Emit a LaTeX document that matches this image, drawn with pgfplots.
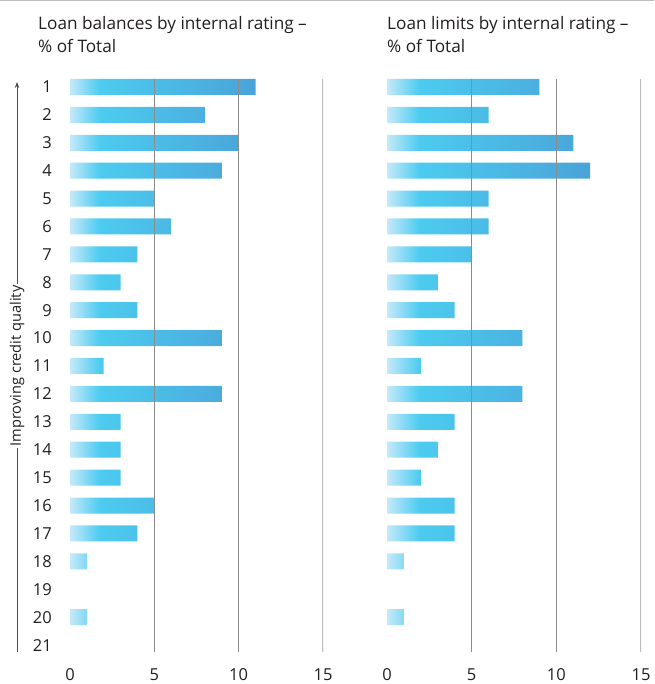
\documentclass[border=0pt]{standalone}
\usepackage{pgfplots}
\pgfplotsset{compat=1.18}
\usepackage{fontspec}
\setmainfont{Open Sans}
\usetikzlibrary{arrows.meta}
\definecolor{c1}{HTML}{C4E9FA}
\definecolor{c2}{HTML}{4CCBEF}
\definecolor{c3}{HTML}{4AA3D8}
\definecolor{gridc}{HTML}{8C8C8C}
\definecolor{gridl}{HTML}{BDBDBD}
\definecolor{txt}{HTML}{231F20}
\pgfdeclarehorizontalshading{barshade}{100bp}{color(0bp)=(c1); color(25bp)=(c1); color(33bp)=(c2); color(75bp)=(c3); color(100bp)=(c3)}
\pgfplotsset{
  panel/.style={
    scale only axis, width=253pt, height=573.4pt, anchor=south west,
    xmin=0, xmax=15, ymin=0.7, ymax=21.25, y dir=reverse,
    xtick={0,5,10,15}, ytick={1,...,21},
    axis line style={draw=none}, major tick length=0pt,
    /pgf/number format/assume math mode=true,
    ticklabel style={font=\fontsize{16.5}{16.5}\selectfont, text=txt},
    xticklabel style={anchor=base, yshift=-28pt},
    yticklabel style={anchor=east, inner sep=0pt, xshift=-18pt},
  },
  barstyle/.style={xbar, bar width=16pt, bar shift=0pt, draw=none, shade, shading=barshade},
}
\begin{document}
\begin{tikzpicture}
\path[use as bounding box] (0,0) rectangle (654pt,684pt);
\draw[gridl, line width=1pt] (0,683.5pt) -- (654pt,683.5pt);
% left panel
\begin{axis}[panel, at={(70pt,32pt)}]
\addplot[barstyle] coordinates {
(11,1) (8,2) (10,3) (9,4) (5,5) (6,6) (4,7) (3,8) (4,9) (9,10)
(2,11) (9,12) (3,13) (3,14) (3,15) (5,16) (4,17) (1,18) (1,20)};
\draw[gridc, line width=1.1pt] (axis cs:5,0.7) -- (axis cs:5,21.25);
\draw[gridc, line width=1.1pt] (axis cs:10,0.7) -- (axis cs:10,21.25);
\draw[gridl, line width=1.3pt] (axis cs:15,0.7) -- (axis cs:15,21.25);
\end{axis}
% right panel
\begin{axis}[panel, at={(387pt,32pt)}, width=254pt, yticklabels={}]
\addplot[barstyle] coordinates {
(9,1) (6,2) (11,3) (12,4) (6,5) (6,6) (5,7) (3,8) (4,9) (8,10)
(2,11) (8,12) (4,13) (3,14) (2,15) (4,16) (4,17) (1,18) (1,20)};
\draw[gridc, line width=1.1pt] (axis cs:5,0.7) -- (axis cs:5,21.25);
\draw[gridc, line width=1.1pt] (axis cs:10,0.7) -- (axis cs:10,21.25);
\draw[gridl, line width=1.3pt] (axis cs:15,0.7) -- (axis cs:15,21.25);
\end{axis}
% titles
\node[anchor=base west, inner sep=0pt, text=txt, font=\fontsize{17.2}{17.2}\selectfont] at (38pt,654pt) {Loan balances by internal rating –};
\node[anchor=base west, inner sep=0pt, text=txt, font=\fontsize{17.2}{17.2}\selectfont] at (38pt,631pt) {\% of Total};
\node[anchor=base west, inner sep=0pt, text=txt, font=\fontsize{17.2}{17.2}\selectfont] at (387pt,654pt) {Loan limits by internal rating –};
\node[anchor=base west, inner sep=0pt, text=txt, font=\fontsize{17.2}{17.2}\selectfont] at (387pt,631pt) {\% of Total};
% arrow
\draw[-{Stealth[length=6pt,width=4.5pt]}, line width=0.9pt, draw=txt!80] (17pt,32pt) -- (17pt,602pt);
\node[rotate=90, fill=white, inner xsep=2pt, inner ysep=1pt, text=txt, font=\fontsize{14.6}{14.6}\selectfont] at (17pt,318pt) {Improving credit quality};
\end{tikzpicture}
\end{document}
